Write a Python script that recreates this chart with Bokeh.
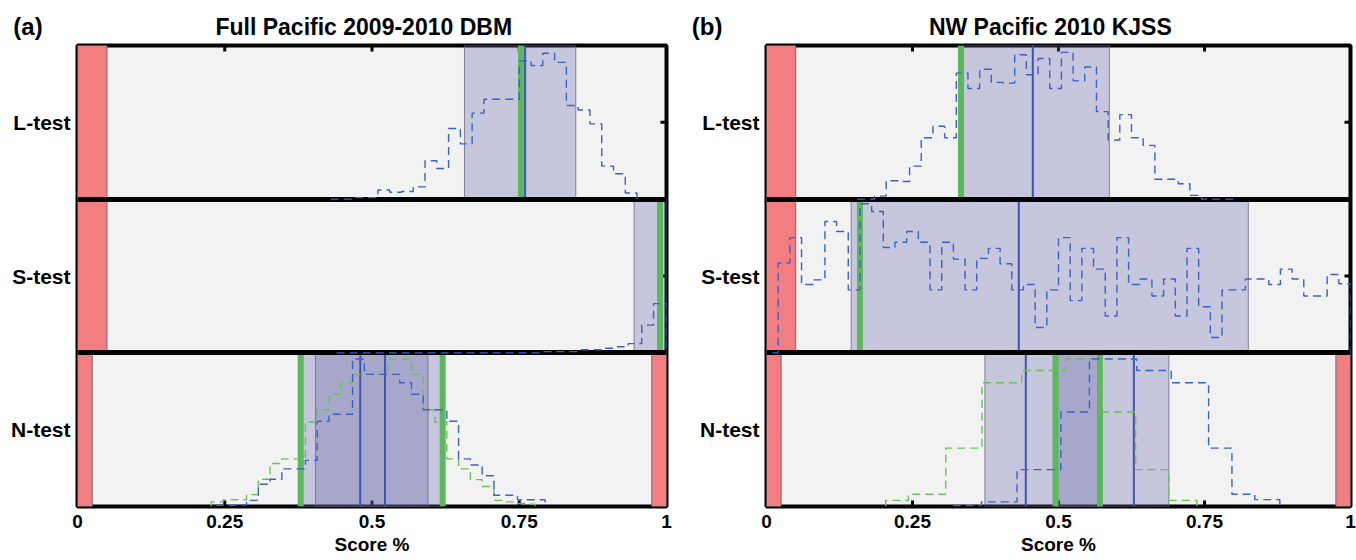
import math
from bokeh.plotting import figure
from bokeh.layouts import row, column
from bokeh.models import Range1d, FixedTicker
from bokeh.core.properties import value
from bokeh.embed import file_html
from bokeh.resources import INLINE

FONT = "Liberation Sans"

# ---------------- shared ----------------
ROW_NAMES = ["N-test", "S-test", "L-test"]          # bottom -> top
ROW_CENTERS = [0.5, 1.5, 2.5]
X_TICKS = [0, 0.25, 0.5, 0.75, 1]
X_TICK_LABELS = ["0", "0.25", "0.5", "0.75", "1"]
TOP_TICKS = [0.25, 0.5, 0.75]
X_LABEL = "Score %"
RED_ONE_SIDED = [[0.0, 0.05]]
RED_TWO_SIDED = [[0.0, 0.025], [0.975, 1.0]]

# ---------------- panel (a) ----------------
A_TAG = "(a)"
A_TITLE = "Full Pacific 2009-2010 DBM"

A_L_EDGES = [0.43, 0.45, 0.47, 0.49, 0.51, 0.53, 0.55, 0.57, 0.59, 0.61, 0.63, 0.65, 0.67, 0.69,
             0.71, 0.73, 0.75, 0.77, 0.79, 0.81, 0.83, 0.85, 0.87, 0.89, 0.91, 0.93, 0.95]
A_L_HEIGHTS = [0.0, 0.0, 0.01, 0.01, 0.06, 0.045, 0.05, 0.08, 0.25, 0.20, 0.46, 0.36, 0.56,
               0.65, 0.65, 0.65, 0.90, 0.87, 0.95, 0.89, 0.61, 0.58, 0.49, 0.215, 0.165, 0.04]
A_L_BAND = [[0.657, 0.846]]
A_L_OBS = [0.753]
A_L_MED = [0.760]

A_S_EDGES = [0.44, 0.785, 0.855, 0.889, 0.917, 0.935, 0.958, 0.978, 1.0]
A_S_HEIGHTS = [0.0, 0.008, 0.02, 0.03, 0.04, 0.06, 0.18, 0.32]
A_S_BAND = [[0.945, 1.0]]
A_S_OBS = [0.989]
A_S_MED = []

A_N_EDGES = [0.237, 0.267, 0.287, 0.307, 0.327, 0.347, 0.367, 0.387, 0.407, 0.427, 0.447, 0.467,
             0.487, 0.507, 0.527, 0.547, 0.567, 0.587, 0.607, 0.627, 0.647, 0.667, 0.687, 0.707,
             0.727, 0.747, 0.767, 0.794]
A_N_HEIGHTS = [0.008, 0.01, 0.04, 0.145, 0.177, 0.245, 0.245, 0.30, 0.555, 0.60, 0.60, 0.96,
               0.86, 0.86, 0.86, 0.805, 0.73, 0.63, 0.63, 0.555, 0.31, 0.27, 0.20, 0.073, 0.073,
               0.044, 0.044]
A_N_EDGES_OBS = [0.227, 0.247, 0.267, 0.287, 0.307, 0.327, 0.347, 0.367, 0.387, 0.407, 0.427,
                 0.447, 0.467, 0.487, 0.507, 0.527, 0.547, 0.567, 0.587, 0.607, 0.627, 0.647,
                 0.667, 0.687, 0.707, 0.727, 0.747, 0.767, 0.777]
A_N_HEIGHTS_OBS = [0.03, 0.044, 0.044, 0.077, 0.177, 0.28, 0.31, 0.31, 0.55, 0.63, 0.73, 0.805,
                   0.86, 0.86, 0.86, 0.96, 0.96, 0.86, 0.63, 0.55, 0.31, 0.245, 0.175, 0.13,
                   0.04, 0.03, 0.02, 0.015]
A_N_BAND = [[0.379, 0.620], [0.404, 0.595]]
A_N_OBS = [0.379, 0.620]
A_N_MED = [0.480, 0.522]

# ---------------- panel (b) ----------------
B_TAG = "(b)"
B_TITLE = "NW Pacific 2010 KJSS"

B_L_EDGES = [0.155, 0.185, 0.205, 0.225, 0.245, 0.265, 0.285, 0.305, 0.325, 0.345, 0.365, 0.385,
             0.405, 0.425, 0.445, 0.465, 0.485, 0.505, 0.525, 0.545, 0.565, 0.585, 0.605, 0.625,
             0.645, 0.665, 0.685, 0.705, 0.725, 0.745, 0.805]
B_L_HEIGHTS = [0.0, 0.02, 0.12, 0.115, 0.215, 0.40, 0.475, 0.40, 0.82, 0.72, 0.845, 0.76, 0.755,
               0.94, 0.81, 0.915, 0.72, 0.955, 0.77, 0.86, 0.57, 0.385, 0.55, 0.40, 0.35, 0.13,
               0.13, 0.10, 0.025, 0.0]
B_L_BAND = [[0.336, 0.587]]
B_L_OBS = [0.333]
B_L_MED = [0.456]

B_S_EDGES = [0.01, 0.02, 0.04, 0.06, 0.08, 0.10, 0.12, 0.14, 0.16, 0.18, 0.20, 0.22, 0.24, 0.26,
             0.28, 0.30, 0.32, 0.34, 0.36, 0.38, 0.40, 0.42, 0.44, 0.46, 0.48, 0.50, 0.52, 0.54,
             0.56, 0.58, 0.60, 0.62, 0.64, 0.66, 0.68, 0.70, 0.72, 0.74, 0.76, 0.78, 0.80, 0.82,
             0.84, 0.86, 0.88, 0.90, 0.92, 0.94, 0.96, 0.98, 1.0]
B_S_HEIGHTS = [0.0, 0.585, 0.75, 0.445, 0.475, 0.855, 0.79, 0.41, 0.97, 0.92,
               0.685, 0.72, 0.79, 0.72, 0.41, 0.72, 0.61, 0.41, 0.615, 0.68,
               0.58, 0.41, 0.445, 0.165, 0.41, 0.75, 0.34, 0.68, 0.545, 0.24,
               0.75, 0.445, 0.48, 0.37, 0.48, 0.24, 0.68, 0.30, 0.10, 0.41,
               0.41, 0.48, 0.48, 0.445, 0.545, 0.48, 0.37, 0.37, 0.51, 0.45]
B_S_BAND = [[0.145, 0.825]]
B_S_OBS = [0.160]
B_S_MED = [0.432]

B_N_EDGES = [0.32, 0.368, 0.429, 0.504, 0.553, 0.634, 0.693, 0.757, 0.797, 0.836, 0.879]
B_N_HEIGHTS = [0.005, 0.03, 0.24, 0.615, 0.96, 0.885, 0.805, 0.38, 0.08, 0.045]
B_N_EDGES_OBS = [0.204, 0.243, 0.307, 0.369, 0.437, 0.512, 0.575, 0.632, 0.689, 0.737]
B_N_HEIGHTS_OBS = [0.04, 0.08, 0.38, 0.805, 0.885, 0.96, 0.615, 0.24, 0.04]
B_N_BAND = [[0.374, 0.689], [0.495, 0.571]]
B_N_OBS = [0.495, 0.571]
B_N_MED = [0.444, 0.629]

# ---------------- styles / layout ----------------
BG = "#F2F2F2"
RED = "#F37E82"
BAND = "#5F5FA8"
SIM_COLOR = "#3D5FC6"
OBS_COLOR = "#6CC05A"
GREEN = "#5CB85C"
BLUE = "#4052B4"

HEADER_H = 43
MAIN_H = 517
TITLE_X = 0.486      # title centre, in score units
TITLE_MID = 17       # px above header bottom (text middle)
A_GEOM = dict(width=688, left=77, right=22, tag_x=-0.109)
B_GEOM = dict(width=668, left=78, right=6, tag_x=-0.128)


def stair(edges, heights, base):
    xs, ys = [edges[0]], [base]
    for i, h in enumerate(heights):
        xs += [edges[i], edges[i + 1]]
        ys += [base + h, base + h]
    xs.append(edges[-1])
    ys.append(base)
    return xs, ys


def style_axis(ax, size):
    ax.axis_line_color = None
    ax.major_tick_in = 0
    ax.major_tick_out = 0
    ax.minor_tick_line_color = None
    ax.major_label_text_font = FONT
    ax.major_label_text_font_size = size
    ax.major_label_text_font_style = "bold"
    ax.major_label_text_color = "black"


def build_header(tag, title, g):
    fw = g["width"] - g["left"] - g["right"]
    h = figure(width=g["width"], height=HEADER_H,
               x_range=Range1d(-g["left"] / fw, (g["width"] - g["left"]) / fw),
               y_range=Range1d(0, HEADER_H), output_backend="svg", toolbar_location=None,
               x_axis_location=None, y_axis_location=None, min_border=0,
               outline_line_color=None, background_fill_color="white",
               border_fill_color="white")
    h.grid.visible = False
    h.text(x=[TITLE_X], y=[TITLE_MID], text=[title], text_font=value(FONT),
           text_font_size="23px", text_font_style="bold", text_align="center",
           text_baseline="middle", text_color="black")
    h.text(x=[g["tag_x"]], y=[TITLE_MID], text=[tag], text_font=value(FONT),
           text_font_size="24px", text_font_style="bold", text_align="left",
           text_baseline="middle", text_color="black")
    return h


def build_panel(rows, g):
    fh = 461
    p = figure(width=g["width"], height=MAIN_H, x_range=Range1d(0, 1),
               y_range=Range1d(0, len(ROW_NAMES)),
               output_backend="svg", toolbar_location=None,
               min_border_left=g["left"], min_border_right=g["right"],
               min_border_top=2, min_border_bottom=MAIN_H - 2 - fh,
               background_fill_color=BG, border_fill_color="white")
    p.xgrid.visible = False
    p.ygrid.visible = False
    p.outline_line_color = "black"
    p.outline_line_width = 4

    xa = p.xaxis[0]
    style_axis(xa, "19px")
    xa.ticker = FixedTicker(ticks=X_TICKS)
    xa.major_label_overrides = {t: s for t, s in zip(X_TICKS, X_TICK_LABELS)}
    xa.major_label_standoff = 8
    xa.axis_label = X_LABEL
    xa.axis_label_text_font = FONT
    xa.axis_label_text_font_size = "19px"
    xa.axis_label_text_font_style = "bold"
    xa.axis_label_text_color = "black"
    xa.axis_label_standoff = 3

    ya = p.yaxis[0]
    style_axis(ya, "21px")
    ya.ticker = FixedTicker(ticks=ROW_CENTERS)
    ya.major_label_overrides = {c: n for c, n in zip(ROW_CENTERS, ROW_NAMES)}
    ya.major_label_standoff = 7

    # inside tick marks (drawn first so the patches sit over them)
    n_rows = len(ROW_NAMES)
    tick_kw = dict(marker="dash", size=12, line_color="black", line_width=3)
    p.scatter(x=X_TICKS, y=[0] * len(X_TICKS), angle=math.pi / 2, **tick_kw)
    p.scatter(x=TOP_TICKS, y=[n_rows] * len(TOP_TICKS), angle=math.pi / 2, **tick_kw)
    p.scatter(x=[1] * n_rows, y=ROW_CENTERS, **tick_kw)
    p.scatter(x=[0] * n_rows, y=ROW_CENTERS, **tick_kw)

    # red rejection regions and shaded bands
    for base, r in enumerate(rows):
        for lo, hi in r["red"]:
            p.quad(left=[lo], right=[hi], bottom=[base], top=[base + 1],
                   fill_color=RED, line_color="#7a6668", line_width=1)
    for base, r in enumerate(rows):
        for lo, hi in r["band"]:
            p.quad(left=[lo], right=[hi], bottom=[base], top=[base + 1],
                   fill_color=BAND, fill_alpha=0.3, line_color="#6a6a7e",
                   line_width=1, line_alpha=0.8)
    # vertical markers
    for base, r in enumerate(rows):
        if r["med"]:
            n = len(r["med"])
            p.segment(x0=r["med"], y0=[base] * n, x1=r["med"], y1=[base + 1] * n,
                      line_color=BLUE, line_width=2)
        if r["obs"]:
            n = len(r["obs"])
            p.segment(x0=r["obs"], y0=[base] * n, x1=r["obs"], y1=[base + 1] * n,
                      line_color=GREEN, line_width=6)
    # row separators
    p.hspan(y=list(range(1, n_rows)), line_color="black", line_width=5)
    # histograms (dashed stairs)
    for base, r in enumerate(rows):
        if r.get("obs_hist"):
            xs, ys = stair(r["obs_hist"][0], r["obs_hist"][1], base)
            p.line(xs, ys, line_color=OBS_COLOR, line_width=1.4, line_dash="8 5")
        xs, ys = stair(r["hist"][0], r["hist"][1], base)
        p.line(xs, ys, line_color=SIM_COLOR, line_width=1.4, line_dash="8 5")
    return p


rows_a = [
    dict(red=RED_TWO_SIDED, band=A_N_BAND, hist=(A_N_EDGES, A_N_HEIGHTS),
         obs_hist=(A_N_EDGES_OBS, A_N_HEIGHTS_OBS), obs=A_N_OBS, med=A_N_MED),
    dict(red=RED_ONE_SIDED, band=A_S_BAND, hist=(A_S_EDGES, A_S_HEIGHTS),
         obs=A_S_OBS, med=A_S_MED),
    dict(red=RED_ONE_SIDED, band=A_L_BAND, hist=(A_L_EDGES, A_L_HEIGHTS),
         obs=A_L_OBS, med=A_L_MED),
]
rows_b = [
    dict(red=RED_TWO_SIDED, band=B_N_BAND, hist=(B_N_EDGES, B_N_HEIGHTS),
         obs_hist=(B_N_EDGES_OBS, B_N_HEIGHTS_OBS), obs=B_N_OBS, med=B_N_MED),
    dict(red=RED_ONE_SIDED, band=B_S_BAND, hist=(B_S_EDGES, B_S_HEIGHTS),
         obs=B_S_OBS, med=B_S_MED),
    dict(red=RED_ONE_SIDED, band=B_L_BAND, hist=(B_L_EDGES, B_L_HEIGHTS),
         obs=B_L_OBS, med=B_L_MED),
]

ha = build_header(A_TAG, A_TITLE, A_GEOM)
hb = build_header(B_TAG, B_TITLE, B_GEOM)
pa = build_panel(rows_a, A_GEOM)
pb = build_panel(rows_b, B_GEOM)

layout = column(row(ha, hb), row(pa, pb))
open("out.html", "w").write(file_html(layout, INLINE))
